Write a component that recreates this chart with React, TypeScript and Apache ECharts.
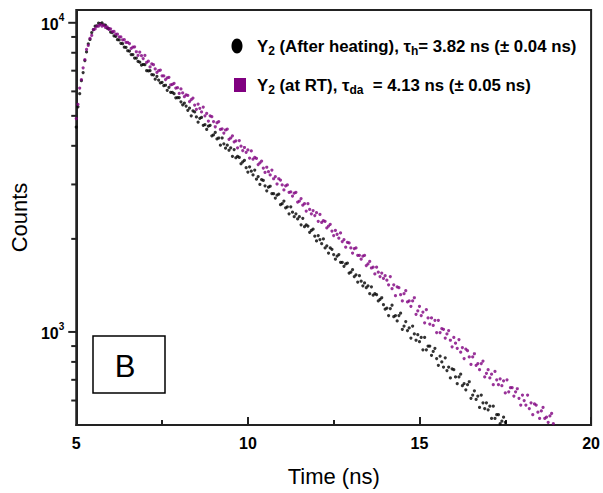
import React, { useEffect, useRef } from "react";
import * as echarts from "echarts";

// Channel grid of the decay histogram (ns)
const TIME_START = 5.0;
const TIME_STEP = 0.05;

// Y2 after heating (black), counts per channel from 5.00 ns
const AFTER_HEATING = [
  4600, 5350, 5900, 6500, 6900, 7550, 8050, 8550, 8830, 9300,
  9500, 9750, 9780, 9980, 9930, 10000, 9840, 9830, 9610, 9570,
  9330, 9300, 9070, 9040, 8820, 8800, 8580, 8560, 8340, 8330,
  8120, 8100, 7890, 7890, 7690, 7690, 7500,
  7460, 7300, 7330, 7320, 7000, 6990, 7000, 6800, 6790, 6570,
  6710, 6530, 6390, 6420, 6260, 6280, 6050, 6180, 5960, 5960,
  5900, 5720, 5730, 5730, 5550, 5430, 5500, 5380,
  5210, 5300, 5000, 5190, 5150, 4960, 4770, 4910, 4940, 4660,
  4680, 4520, 4630, 4660, 4310, 4340, 4420, 4210, 4240, 4020,
  4240, 4060, 3930, 4020, 3870, 3940, 3700, 3890, 3660, 3700,
  3670, 3500, 3550, 3590, 3400, 3290, 3420, 3310, 3220, 3340,
  3120, 3180, 3000, 3110, 3090, 2970, 2860, 2940, 2960, 2800,
  2800, 2710, 2770, 2790, 2580, 2600, 2650, 2520, 2540, 2410,
  2540, 2440, 2360, 2410, 2320, 2360, 2220, 2330, 2190, 2220,
  2200, 2100, 2130, 2150, 2040, 1970, 2050, 1990, 1930, 2000,
  1870, 1900, 1800, 1870, 1850, 1780, 1720, 1760, 1780, 1680,
  1680, 1630, 1660, 1670, 1550, 1560, 1590, 1510, 1530, 1450,
  1520, 1460, 1410, 1440, 1390, 1410, 1330, 1400, 1315, 1330,
  1320, 1260, 1275, 1290, 1225, 1185,
  1195, 1130, 1190, 1220, 1120, 1130, 1085, 1130, 1150, 1020,
  1045, 1080, 1010, 1030, 955, 1045, 985, 940, 980, 930,
  960, 875, 960, 875, 900, 900, 840, 865, 885, 820,
  780, 835, 800, 770, 825, 750, 770, 710, 760, 755,
  715, 680, 715, 730, 670, 680, 650, 675, 690, 610,
  625, 645, 605, 620, 570, 625, 590, 565, 590, 560,
  575, 525, 575, 525, 540, 540, 505, 515, 530, 510,
];

// Y2 at room temperature (purple), counts per channel from 5.00 ns
const AT_RT = [
  4900, 5450, 6150, 6550, 7150, 7600, 8200, 8450, 8900, 9100,
  9500, 9550, 9750, 9750, 9880, 9750, 9820, 9660, 9700, 9530,
  9560, 9370, 9380, 9190, 9190, 9000, 9000, 8810, 8820, 8640,
  8640,
  8570, 8260, 8340, 8360, 8060, 7850, 8040, 7830, 7660, 7840,
  7450, 7510, 7200, 7370, 7320, 7090, 6910, 7000, 7030, 6740,
  6730, 6550, 6640, 6660, 6300, 6320, 6370, 6150, 6170, 5910,
  6110, 5930, 5770, 5850,
  5820, 5560, 5640, 5710, 5420, 5250, 5460, 5290, 5150, 5340,
  5000, 5090, 4810, 5000, 4970, 4790, 4610, 4750, 4790, 4520,
  4540, 4400, 4500, 4530, 4200, 4240, 4310, 4120, 4150, 3940,
  4160, 3990, 3860, 3950, 3810, 3880, 3650, 3850, 3620, 3670,
  3640, 3480, 3520, 3570, 3390, 3280, 3410, 3300, 3220, 3340,
  3130, 3180, 3010, 3130, 3100, 2990, 2880, 2970, 2990, 2830,
  2840, 2750, 2810, 2830, 2630, 2650, 2700, 2570, 2600, 2460,
  2600, 2490, 2410, 2470, 2380, 2430, 2280, 2400, 2260, 2290,
  2280, 2170, 2200, 2230, 2120, 2050, 2130, 2070, 2010, 2090,
  1960, 1990, 1880, 1950, 1940, 1870, 1800, 1860, 1870, 1770,
  1770, 1720, 1760, 1770, 1640, 1660, 1690, 1610, 1620, 1540,
  1620, 1560, 1510, 1550, 1490, 1520,
  1470, 1420, 1510, 1380, 1420, 1310, 1400, 1390, 1320, 1260,
  1330, 1360, 1250, 1260, 1210, 1260, 1290, 1140, 1170, 1210,
  1130, 1160, 1070, 1180, 1110, 1060, 1110, 1050, 1090, 995,
  1090, 995, 1025, 1020, 955, 985, 1010, 940, 895, 960,
  920, 885, 945, 860, 890, 820, 880, 870, 830, 785,
  830, 850, 780, 790, 755, 790, 805, 715, 735, 755,
  710, 730, 675, 745, 700, 675, 705, 670, 695, 635,
  700, 640, 660, 660, 620, 640, 655, 610, 580, 625,
  600, 580, 625, 565, 590, 540, 585, 580, 550, 525,
  555, 570, 525, 530, 510, 535, 545, 505,
];

const X_MIN = 5;
const X_MAX = 20;
const X_INTERVAL = 5;
const Y_MIN = 500;
const Y_MAX = 11000;
const Y_MAJOR_TICKS = [1000, 10000];
const Y_MINOR_TICKS = [600, 700, 800, 900, 2000, 3000, 4000, 5000, 6000, 7000, 8000, 9000];

const SERIES_NAMES = ["Y2 (After heating)", "Y2 (at RT)"];
const COLORS = ["#000000", "#800080"];

const FONT = "'Liberation Sans', Arial, Helvetica, sans-serif";
const AXIS_COLOR = "#222222";

function toPoints(values: number[]) {
  return values.map((v, i) => [Number((TIME_START + i * TIME_STEP).toFixed(2)), v]);
}

const legendRich = {
  n: { fontFamily: FONT, fontWeight: "bold", fontSize: 16.8, lineHeight: 22, fill: "#000", verticalAlign: "middle" },
  s: { fontFamily: FONT, fontWeight: "bold", fontSize: 12, lineHeight: 22, fill: "#000", verticalAlign: "bottom" },
};

export default function App() {
  const ref = useRef<HTMLDivElement>(null);
  useEffect(() => {
    if (!ref.current) return;
    const chart = echarts.init(ref.current, null, { renderer: "svg" });

    const tickData = [
      ...Y_MAJOR_TICKS.map((v) => [X_MIN, v, 8]),
      ...Y_MINOR_TICKS.map((v) => [X_MIN, v, 5]),
    ];

    const option: any = {
      animation: false,
      backgroundColor: "#ffffff",
      grid: {
        left: 70,
        right: 11,
        top: 10,
        bottom: 68,
        show: true,
        borderColor: AXIS_COLOR,
        borderWidth: 2,
        backgroundColor: "transparent",
      },
      xAxis: {
        type: "value",
        min: X_MIN,
        max: X_MAX,
        interval: X_INTERVAL,
        name: "Time (ns)",
        nameLocation: "middle",
        nameGap: 40,
        nameTextStyle: { fontFamily: FONT, fontSize: 22, color: "#000" },
        axisLine: { show: true, lineStyle: { color: AXIS_COLOR, width: 2 } },
        axisTick: { show: true, inside: true, length: 8, lineStyle: { color: AXIS_COLOR, width: 2 } },
        minorTick: { show: true, splitNumber: 2, length: 5, lineStyle: { color: AXIS_COLOR, width: 2 } },
        axisLabel: { fontFamily: FONT, fontWeight: "bold", fontSize: 16, color: "#000", margin: 10 },
        splitLine: { show: false },
      },
      yAxis: {
        type: "log",
        logBase: 10,
        min: Y_MIN,
        max: Y_MAX,
        name: "Counts",
        nameLocation: "middle",
        nameGap: 36,
        nameTextStyle: { fontFamily: FONT, fontSize: 22, color: "#000" },
        axisLine: { show: true, lineStyle: { color: AXIS_COLOR, width: 2 } },
        axisTick: { show: false },
        splitLine: { show: false },
        axisLabel: {
          margin: 12,
          formatter: (v: number) => {
            const e = Math.log10(v);
            if (Math.abs(e - Math.round(e)) > 1e-6) return "";
            return "{b|10}{s|" + Math.round(e) + "}";
          },
          rich: {
            b: { fontFamily: FONT, fontWeight: "bold", fontSize: 16, color: "#000", lineHeight: 20, verticalAlign: "bottom" },
            s: { fontFamily: FONT, fontWeight: "bold", fontSize: 10, color: "#000", lineHeight: 20, verticalAlign: "top" },
          },
        },
      },
      series: [
        {
          name: SERIES_NAMES[0],
          type: "scatter",
          data: toPoints(AFTER_HEATING),
          symbol: "circle",
          symbolSize: 3.2,
          itemStyle: { color: COLORS[0] },
          z: 2,
        },
        {
          name: SERIES_NAMES[1],
          type: "scatter",
          data: toPoints(AT_RT),
          symbol: "circle",
          symbolSize: 3.2,
          itemStyle: { color: COLORS[1] },
          z: 3,
        },
        {
          name: "y-ticks",
          type: "custom",
          clip: false,
          silent: true,
          z: 5,
          encode: { x: 0, y: 1 },
          data: tickData,
          renderItem: (params: any, api: any) => {
            const p = api.coord([api.value(0), api.value(1)]);
            const len = api.value(2);
            return {
              type: "line",
              shape: { x1: p[0] - len, y1: p[1], x2: p[0], y2: p[1] },
              style: { stroke: AXIS_COLOR, lineWidth: 2 },
            };
          },
        },
      ],
      graphic: [
        { type: "ellipse", shape: { cx: 237, cy: 46, rx: 5.5, ry: 7.5 }, style: { fill: COLORS[0] } },
        {
          type: "text",
          x: 257,
          y: 46,
          style: {
            text: "{n|Y}{s|2}{n| (After heating), τ}{s|h}{n|= 3.82 ns (± 0.04 ns)}",
            rich: legendRich,
            verticalAlign: "middle",
          },
        },
        { type: "rect", shape: { x: 234, y: 78, width: 12, height: 14 }, style: { fill: COLORS[1] } },
        {
          type: "text",
          x: 257,
          y: 85,
          style: {
            text: "{n|Y}{s|2}{n| (at RT), τ}{s|da}{n|  = 4.13 ns (± 0.05 ns)}",
            rich: legendRich,
            verticalAlign: "middle",
          },
        },
        { type: "rect", shape: { x: 93, y: 336, width: 72, height: 57 }, style: { fill: "#ffffff", stroke: "#000", lineWidth: 1.5 } },
        {
          type: "text",
          x: 125,
          y: 366,
          style: { text: "B", fontFamily: FONT, fontSize: 31, fill: "#000", align: "center", verticalAlign: "middle" },
        },
      ],
    };
    chart.setOption(option);

    return () => chart.dispose();
  }, []);
  return (
    <div
      ref={ref}
      style={{ position: "fixed", left: 0, top: 0, width: 603, height: 493, background: "#fff" }}
    />
  );
}
